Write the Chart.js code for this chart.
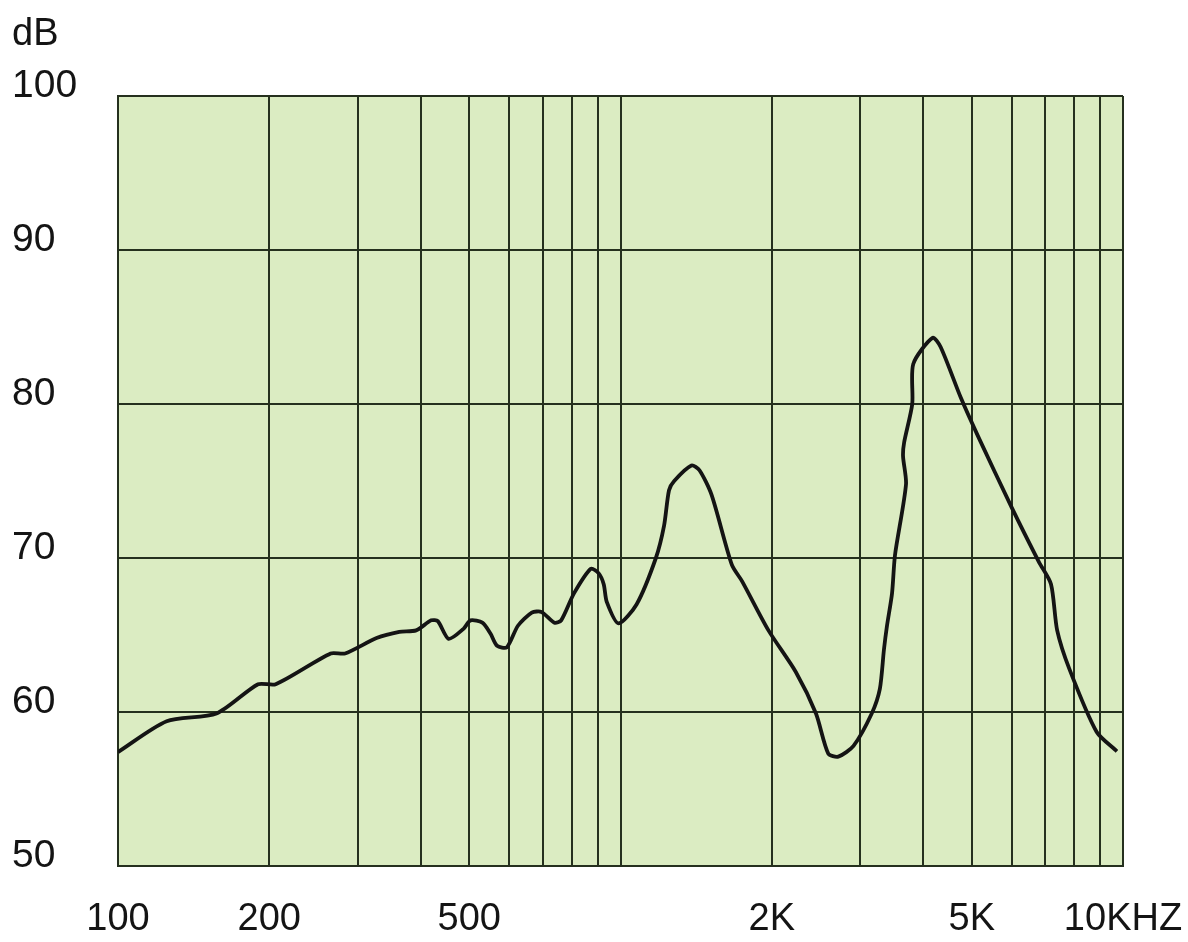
<!DOCTYPE html>
<html>
<head>
<meta charset="utf-8">
<script src="https://cdn.jsdelivr.net/npm/chart.js@4/dist/chart.umd.min.js"></script>
<style>
  html, body { margin: 0; padding: 0; background: #fff; }
  #wrap { width: 1188px; height: 942px; position: relative; }
</style>
</head>
<body>
<div id="wrap"><canvas id="response"></canvas></div>
<script>
// frequency response
const freqHz = [
  100, 125, 157, 190, 206, 265, 283, 327, 363, 392,
  420, 433, 455, 487, 503, 531, 551, 568, 594, 625,
  666, 696, 739, 762, 808, 873, 905, 926, 939, 991,
  1077, 1176, 1221, 1249, 1279, 1384, 1436, 1518, 1666, 1745,
  1970, 2233, 2449, 2591, 2713, 2909, 3162, 3282, 3344, 3391,
  3470, 3518, 3700, 3650, 3668, 3807, 3825, 4178, 4336, 4757,
  5148, 6000, 6800, 7190, 7396, 7820, 8864, 9725
];
const levelDb = [
  57.4, 59.4, 59.9, 61.8, 61.8, 63.8, 63.8, 64.8, 65.2, 65.3,
  65.95, 65.9, 64.75, 65.4, 65.95, 65.8, 65.1, 64.3, 64.2, 65.6,
  66.45, 66.5, 65.8, 65.95, 67.7, 69.3, 69.0, 68.3, 67.15, 65.75,
  67.0, 70.0, 72.1, 74.4, 75.0, 76.0, 75.7, 74.1, 69.55, 68.5,
  65.3, 62.6, 59.9, 57.3, 57.1, 57.8, 59.9, 61.5, 64.05, 65.6,
  67.7, 70.2, 74.8, 76.6, 77.5, 80.0, 82.6, 84.3, 83.7, 80.4,
  77.9, 73.3, 69.75, 68.3, 65.3, 62.8, 58.7, 57.45
];

// axis grid / labels
const xGridHz = [100, 200, 300, 400, 500, 600, 700, 800, 900,
                 1000, 2000, 3000, 4000, 5000, 6000, 7000, 8000, 9000, 10000];
const xTickText = { 100: "100", 200: "200", 500: "500", 2000: "2K", 5000: "5K", 10000: "10KHZ" };
const yMin = 50, yMax = 100, yStep = 10;
const yUnit = "dB";

const INK  = "#141414";
const GRID = "#25301e";
const PAPER = "#dbecc2";

Chart.defaults.font.family = '"Liberation Sans", Arial, sans-serif';
Chart.defaults.font.size = 38;
Chart.defaults.color = INK;

const paper = {
  id: "paper",
  beforeDraw(chart) {
    const { ctx, chartArea: a } = chart;
    ctx.save();
    ctx.fillStyle = PAPER;
    ctx.fillRect(a.left, a.top, a.width, a.height);
    ctx.restore();
  },
  afterDraw(chart) {
    const ctx = chart.ctx;
    ctx.save();
    ctx.font = '38px "Liberation Sans", Arial, sans-serif';
    ctx.fillStyle = INK;
    ctx.textBaseline = "alphabetic";
    ctx.fillText(yUnit, 12, 45);
    ctx.restore();
  }
};

new Chart(document.getElementById("response"), {
  type: "line",
  data: {
    datasets: [{
      data: freqHz.map((f, i) => ({ x: f, y: levelDb[i] })),
      borderColor: INK,
      borderWidth: 3.8,
      pointRadius: 0,
      tension: 0.25,
      fill: false
    }]
  },
  options: {
    responsive: true,
    maintainAspectRatio: false,
    animation: false,
    layout: { padding: { left: 12, top: 96, right: 65, bottom: 0 } },
    plugins: { legend: { display: false }, tooltip: { enabled: false } },
    scales: {
      x: {
        type: "logarithmic",
        min: 100,
        max: 10000,
        afterBuildTicks: (s) => { s.ticks = xGridHz.map((v) => ({ value: v })); },
        afterFit: (s) => { s.height = 76; s.paddingLeft = 0; s.paddingRight = 0; },
        grid: { color: GRID, lineWidth: 2, drawTicks: false, tickLength: 0 },
        border: { color: GRID, width: 2 },
        ticks: {
          autoSkip: false,
          maxRotation: 0,
          padding: 31,
          callback: (v) => xTickText[v] ?? ""
        }
      },
      y: {
        min: yMin,
        max: yMax,
        afterFit: (s) => { s.width = 106; },
        grid: { color: GRID, lineWidth: 2, drawTicks: false, tickLength: 0 },
        border: { color: GRID, width: 2 },
        ticks: {
          stepSize: yStep,
          crossAlign: "far",
          labelOffset: -10,
          font: { size: 39 }
        }
      }
    }
  },
  plugins: [paper]
});
</script>
</body>
</html>
